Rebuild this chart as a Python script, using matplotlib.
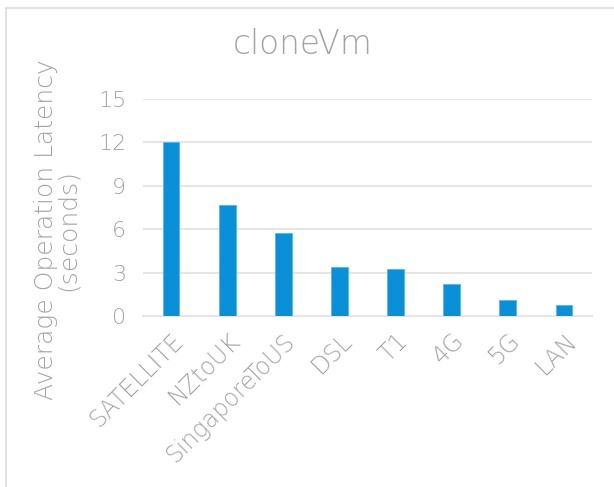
import numpy as np
import matplotlib
matplotlib.use("Agg")
import matplotlib.pyplot as plt
from matplotlib.patches import Rectangle

# data
categories = ['SATELLITE', 'NZtoUK', 'SingaporeToUS', 'DSL', 'T1', '4G', '5G', 'LAN']
latency = [12.0, 7.65, 5.74, 3.39, 3.23, 2.23, 1.08, 0.78]
yticks = [0, 3, 6, 9, 12, 15]

TEXT = '#a3a3a3'
BLUE = '#0a8fd9'
GRID = '#e6e6e6'

plt.rcParams['font.family'] = ['DejaVu Sans']
plt.rcParams['font.weight'] = 'light'

W, H = 614, 487
fig = plt.figure(figsize=(W / 100, H / 100), dpi=100)

# light frame around the whole chart (runs off right and bottom edges)
fig.patches.append(Rectangle((6 / W, -0.1), 1.2, 1 - 8 / H + 0.1, transform=fig.transFigure,
                             fill=False, edgecolor='#e2e2e2', linewidth=1.5))

ax = fig.add_axes([143 / W, 1 - 316 / H, (592 - 143) / W, (316 - 99) / H])
x = np.arange(len(categories))
ax.bar(x, latency, width=0.3, color=BLUE, edgecolor='#5ab4e8', linewidth=0.6, zorder=3)

ax.set_xlim(-0.5, len(categories) - 0.5)
ax.set_ylim(0, 15)
ax.set_yticks(yticks)
ax.set_yticklabels([str(t) for t in yticks], fontsize=16, color=TEXT)
ax.set_xticks(x)
ax.set_xticklabels(categories, fontsize=17, color=TEXT, rotation=45,
                   ha='right', rotation_mode='anchor')
ax.tick_params(axis='both', length=0, pad=12)
ax.tick_params(axis='x', pad=9)
ax.grid(axis='y', color=GRID, linewidth=1.5, zorder=0)
for s in ['top', 'right', 'left']:
    ax.spines[s].set_visible(False)
ax.spines['bottom'].set_color(GRID)
ax.spines['bottom'].set_linewidth(1.5)

fig.text(303 / W, 1 - 45 / H, 'cloneVm', fontsize=23.5, color=TEXT, ha='center', va='center')
fig.text(57 / W, 1 - 230 / H, 'Average Operation Latency\n(seconds)', fontsize=18, color=TEXT,
         rotation=90, ha='center', va='center', multialignment='center', linespacing=0.9)

fig.savefig('out.png', dpi=100)
